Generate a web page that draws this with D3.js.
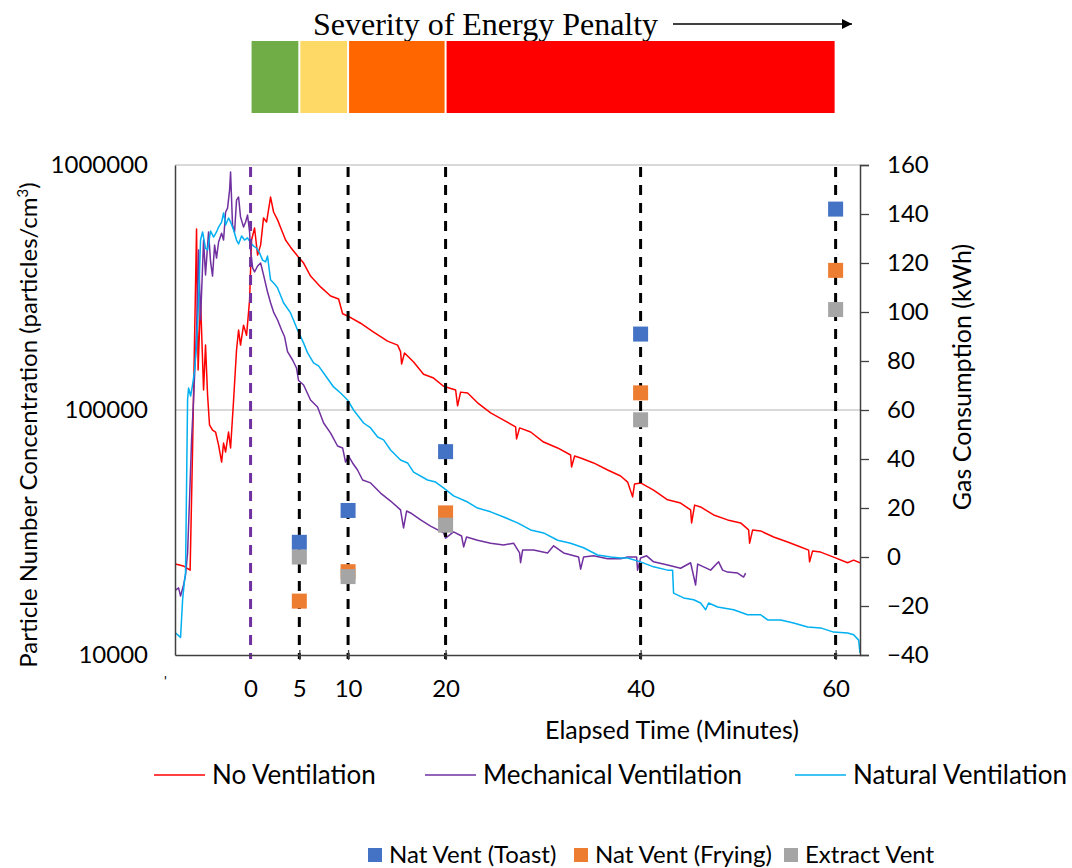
<!DOCTYPE html>
<html>
<head>
<meta charset="utf-8">
<script src="https://cdn.jsdelivr.net/npm/d3@7"></script>
<style>
  body { margin: 0; background: #fff; }
  text { font-family: Lato, "Open Sans", sans-serif; fill: #000; }
</style>
</head>
<body>
<div id="chart-area"></div>
<script>
// time in minutes, particle number concentration (particles/cm3)
const noVentilation = [[-7.7,23500],[-6.9,23100],[-6.2,22200],[-5.95,68700],[-5.54,548000],[-5.38,145600],[-5.13,281000],[-4.82,120700],[-4.62,184000],[-4.41,115100],[-4.21,86900],[-3.9,82800],[-3.59,81300],[-3.28,71900],[-2.97,61300],[-2.77,73300],[-2.56,67400],[-2.26,81300],[-2.05,70000],[-1.74,109900],[-1.44,175800],[-1.23,212000],[-1.03,184000],[-0.72,222000],[-0.41,202000],[-0.1,281000],[0.1,494000],[0.41,553000],[0.72,429000],[1.03,471000],[1.33,608000],[1.64,585000],[2.05,740000],[2.36,643000],[2.77,597000],[3.18,543000],[3.59,494000],[4.1,462000],[4.82,425000],[5.44,398000],[6.15,352000],[7.18,318000],[8.21,292000],[9.03,284000],[9.44,247000],[9.95,242000],[11.28,226000],[12.62,208000],[14.05,191000],[15.08,184000],[15.38,173000],[15.49,154000],[15.79,171000],[16.72,157000],[17.74,140000],[18.77,135000],[19.79,125000],[21.03,120700],[21.23,104000],[21.54,118300],[22.26,117300],[23.28,107000],[24.62,97300],[25.95,91000],[27.18,85300],[27.28,76200],[27.59,84500],[28.72,81300],[30.05,74000],[31.49,70000],[32.82,65500],[32.92,58500],[33.23,64900],[33.85,63700],[35.18,60800],[36.62,56900],[37.95,53800],[38.67,50800],[39.18,44200],[39.38,49900],[40.0,50400],[41.33,47100],[42.77,43000],[44.1,41700],[45.13,39100],[45.23,34600],[45.54,40900],[46.15,40200],[47.49,37300],[48.92,35600],[50.26,34600],[51.08,32400],[51.18,28600],[51.49,32400],[52.31,32100],[53.64,30300],[55.08,28900],[56.41,27600],[57.23,26800],[57.33,24000],[57.64,26600],[58.46,26300],[59.79,25100],[61.23,23800],[61.85,24400],[62.5,23800]];

const mechanicalVentilation = [[-7.69,18400],[-7.38,18800],[-7.18,17400],[-6.87,19300],[-6.67,21200],[-6.46,26100],[-6.26,43000],[-6.05,75500],[-5.85,109900],[-5.54,212000],[-5.33,450000],[-5.13,233000],[-4.82,494000],[-4.62,356000],[-4.31,533000],[-4.1,402000],[-3.9,352000],[-3.69,471000],[-3.49,417000],[-3.28,485000],[-2.97,527000],[-2.77,494000],[-2.56,643000],[-2.36,667000],[-2.15,791000],[-2.05,936000],[-1.85,569000],[-1.64,533000],[-1.44,719000],[-1.23,740000],[-1.03,614000],[-0.72,558000],[-0.51,585000],[-0.31,625000],[-0.1,533000],[0,450000],[0.21,380000],[0.41,366000],[0.72,387000],[1.03,398000],[1.33,356000],[1.74,303000],[2.05,274000],[2.36,251000],[2.77,233000],[3.18,212000],[3.49,199000],[3.79,173000],[4.31,160000],[4.72,148000],[4.92,132000],[5.44,126500],[6.15,109900],[6.87,102800],[7.49,88500],[8.21,80500],[8.92,71300],[9.44,70000],[9.74,61300],[10.05,64900],[10.46,60800],[10.97,56900],[11.49,51800],[12.31,50400],[13.33,45800],[14.36,42500],[15.38,39100],[15.69,33000],[16.0,38700],[16.41,38000],[17.44,35600],[18.46,33600],[19.79,31500],[20.0,30000],[20.82,31800],[21.64,30600],[21.85,27600],[22.15,30300],[23.28,29400],[24.62,28600],[25.95,28100],[26.97,28600],[27.59,26100],[27.69,23800],[27.9,26800],[29.03,26800],[30.46,26100],[31.08,27900],[32.1,26100],[33.64,25100],[33.85,22400],[34.15,25100],[35.18,25400],[36.62,24700],[37.95,24700],[38.67,25100],[39.59,25100],[39.69,22200],[40.0,24900],[40.62,25400],[41.33,24000],[42.77,23300],[44.1,22600],[45.13,23800],[45.64,19300],[45.85,23500],[46.46,22900],[47.18,22200],[48.0,24000],[48.41,22200],[48.92,21800],[49.95,21600],[50.56,20800],[50.77,21600]];

const naturalVentilation = [[-7.69,12300],[-7.38,12000],[-7.18,11800],[-6.97,16800],[-6.77,20200],[-6.67,21600],[-6.46,109900],[-6.36,123000],[-6.15,114000],[-5.95,126500],[-5.74,145600],[-5.54,184000],[-5.33,281000],[-5.13,494000],[-4.92,533000],[-4.62,458000],[-4.41,450000],[-4.1,538000],[-3.79,508000],[-3.49,533000],[-3.28,558000],[-2.97,585000],[-2.77,637000],[-2.56,569000],[-2.26,608000],[-2.05,585000],[-1.74,543000],[-1.44,494000],[-1.23,476000],[-0.92,513000],[-0.62,494000],[-0.31,504000],[0,481000],[0.31,467000],[0.62,458000],[0.92,438000],[1.23,409000],[1.54,402000],[1.74,425000],[2.05,340000],[2.46,327000],[2.77,315000],[3.38,274000],[4.1,249000],[4.82,212000],[5.44,187500],[5.85,171000],[6.46,155600],[6.97,151400],[7.49,141600],[8.51,124200],[9.23,117300],[9.95,109900],[10.56,100000],[11.59,88500],[12.31,84500],[13.03,77600],[13.64,75500],[14.36,68700],[15.38,62500],[16.1,60800],[16.72,55800],[18.15,51800],[18.97,50800],[19.79,48100],[20.82,44600],[22.26,42100],[23.28,39800],[24.62,38400],[25.95,36600],[27.38,34600],[28.72,32400],[30.05,31500],[31.49,29400],[32.82,28600],[34.15,27400],[35.59,25600],[36.92,25100],[37.95,24900],[38.67,24900],[40.0,24000],[41.33,22900],[42.77,22200],[43.28,22200],[43.38,17900],[44.41,17100],[45.44,16800],[46.15,16300],[46.67,15300],[46.97,16300],[47.9,15700],[49.54,15300],[50.97,14600],[52.31,14600],[53.03,13900],[54.36,13900],[55.69,13500],[57.13,13000],[58.46,12900],[59.79,12400],[61.23,12300],[61.85,12100],[62.36,11500],[62.5,10200]];

// gas consumption (kWh) at the marked times
const markerTimes = [5, 10, 20, 40, 60];
const toastGas = [6, 19, 43, 91, 142];
const fryingGas = [-18, -6, 18, 67, 117];
const extractGas = [0, -8, 13, 56, 101];

const xTicks = [0, 5, 10, 20, 40, 60];
const leftTicks = [10000, 100000, 1000000];
const rightTicks = [-40, -20, 0, 20, 40, 60, 80, 100, 120, 140, 160];

// energy penalty bands (minutes)
const penaltyBounds = [0, 5, 10, 20, 60];
const penaltyColors = ['#70AD47', '#FFD966', '#FF6600', '#FF0000'];

const lineSeries = [
  { name: 'No Ventilation', data: noVentilation, color: '#FF0000' },
  { name: 'Mechanical Ventilation', data: mechanicalVentilation, color: '#7030A0' },
  { name: 'Natural Ventilation', data: naturalVentilation, color: '#00B0F0' }
];
const markerSeries = [
  { name: 'Nat Vent (Toast)', values: toastGas, color: '#4472C4' },
  { name: 'Nat Vent (Frying)', values: fryingGas, color: '#ED7D31' },
  { name: 'Extract Vent', values: extractGas, color: '#A5A5A5' }
];

const plot = { left: 175, right: 860, top: 165, bottom: 655 };

const svg = d3.select('#chart-area').append('svg')
  .attr('width', 1072)
  .attr('height', 868);

const x = d3.scaleLinear().domain([-7.75, 62.5]).range([plot.left, plot.right]);
const yLeft = d3.scaleLog().domain([10000, 1000000]).range([plot.bottom, plot.top]);
const yRight = d3.scaleLinear().domain([-40, 160]).range([plot.bottom, plot.top]);

// severity header
svg.append('text')
  .attr('x', 313).attr('y', 35)
  .style('font-family', '"Liberation Serif", "Times New Roman", serif')
  .style('font-size', '32px')
  .text('Severity of Energy Penalty');

svg.append('defs').append('marker')
  .attr('id', 'arrow').attr('viewBox', '0 0 10 10')
  .attr('refX', 10).attr('refY', 5)
  .attr('markerWidth', 10).attr('markerHeight', 10)
  .attr('markerUnits', 'userSpaceOnUse')
  .attr('orient', 'auto')
  .append('path').attr('d', 'M0,0L10,5L0,10Z').attr('fill', '#000');

svg.append('line')
  .attr('x1', 673).attr('x2', 852).attr('y1', 24).attr('y2', 24)
  .attr('stroke', '#000').attr('stroke-width', 1.3)
  .attr('marker-end', 'url(#arrow)');

svg.append('g').selectAll('rect')
  .data(penaltyColors)
  .join('rect')
  .attr('x', (d, i) => x(penaltyBounds[i]) + 1)
  .attr('width', (d, i) => x(penaltyBounds[i + 1]) - x(penaltyBounds[i]) - 2)
  .attr('y', 41).attr('height', 72)
  .attr('fill', d => d);

// gridlines
svg.append('g').selectAll('line')
  .data([100000, 1000000])
  .join('line')
  .attr('x1', plot.left).attr('x2', plot.right)
  .attr('y1', d => yLeft(d)).attr('y2', d => yLeft(d))
  .attr('stroke', '#D9D9D9').attr('stroke-width', 2);

// series lines
svg.append('clipPath').attr('id', 'plot-clip')
  .append('rect')
  .attr('x', plot.left).attr('y', plot.top - 2)
  .attr('width', plot.right - plot.left).attr('height', plot.bottom - plot.top + 2);

const line = d3.line().x(d => x(d[0])).y(d => yLeft(d[1]));
svg.append('g').attr('clip-path', 'url(#plot-clip)')
  .selectAll('path')
  .data(lineSeries)
  .join('path')
  .attr('d', d => line(d.data))
  .attr('fill', 'none')
  .attr('stroke', d => d.color)
  .attr('stroke-width', 1.5)
  .attr('stroke-linejoin', 'round');

// event markers (dashed verticals)
svg.append('g').selectAll('line')
  .data([0].concat(markerTimes))
  .join('line')
  .attr('x1', d => x(d)).attr('x2', d => x(d))
  .attr('y1', plot.top + 2).attr('y2', plot.bottom + 4)
  .attr('stroke', d => d === 0 ? '#7030A0' : '#000')
  .attr('stroke-width', 3)
  .attr('stroke-dasharray', '10,8');

// gas consumption squares
markerSeries.forEach(s => {
  svg.append('g').selectAll('rect')
    .data(s.values)
    .join('rect')
    .attr('x', (d, i) => x(markerTimes[i]) - 7.5)
    .attr('y', d => yRight(d) - 7.5)
    .attr('width', 15).attr('height', 15)
    .attr('fill', s.color);
});

// axes
const leftAxis = svg.append('g')
  .attr('transform', `translate(${plot.left},0)`)
  .call(d3.axisLeft(yLeft).tickValues(leftTicks).tickFormat(d3.format('d')).tickSize(0).tickPadding(27));
leftAxis.select('.domain').attr('stroke', '#404040').attr('stroke-width', 1.5);

const rightAxis = svg.append('g')
  .attr('transform', `translate(${plot.right},0)`)
  .call(d3.axisRight(yRight).tickValues(rightTicks).tickSize(9).tickPadding(18));
rightAxis.select('.domain').attr('stroke', '#404040').attr('stroke-width', 1.5);
rightAxis.selectAll('.tick line').attr('stroke', '#404040').attr('stroke-width', 1.3);

const bottomAxis = svg.append('g')
  .attr('transform', `translate(0,${plot.bottom})`)
  .call(d3.axisBottom(x).tickValues(xTicks).tickSize(0).tickPadding(25));
bottomAxis.select('.domain').attr('stroke', '#404040').attr('stroke-width', 1.5);
bottomAxis.selectAll('.tick').filter(d => d !== 0).append('line')
  .attr('y1', -5).attr('y2', 5)
  .attr('stroke', '#404040').attr('stroke-width', 1.3);

svg.selectAll('.tick text')
  .style('font-family', 'Lato, sans-serif')
  .style('font-size', '24px')
  .attr('fill', '#000');

svg.append('text')
  .attr('x', 164).attr('y', 686)
  .style('font-size', '14px').attr('fill', '#555')
  .text("'");

// axis titles
svg.append('text')
  .attr('transform', 'translate(37,425) rotate(-90)')
  .attr('text-anchor', 'middle')
  .style('font-size', '24px')
  .html('Particle Number Concentration (particles/cm<tspan dy="-9" font-size="15">3</tspan><tspan dy="9">)</tspan>');

svg.append('text')
  .attr('transform', 'translate(971,377) rotate(-90)')
  .attr('text-anchor', 'middle')
  .style('font-size', '25px')
  .text('Gas Consumption (kWh)');

svg.append('text')
  .attr('x', 672).attr('y', 739)
  .attr('text-anchor', 'middle')
  .style('font-size', '25px')
  .text('Elapsed Time (Minutes)');

// line legend
const lineLegendX = [154, 425, 795];
const lineLegend = svg.append('g').selectAll('g')
  .data(lineSeries)
  .join('g')
  .attr('transform', (d, i) => `translate(${lineLegendX[i]},775)`);
lineLegend.append('line')
  .attr('x1', 0).attr('x2', 51)
  .attr('stroke', d => d.color).attr('stroke-width', 1.5);
lineLegend.append('text')
  .attr('x', 58).attr('y', 9)
  .style('font-size', '26px')
  .text(d => d.name);

// marker legend
const markerLegendX = [368, 574, 784];
const markerLegend = svg.append('g').selectAll('g')
  .data(markerSeries)
  .join('g')
  .attr('transform', (d, i) => `translate(${markerLegendX[i]},855)`);
markerLegend.append('rect')
  .attr('x', 0).attr('y', -7).attr('width', 14).attr('height', 14)
  .attr('fill', d => d.color);
markerLegend.append('text')
  .attr('x', 21).attr('y', 8)
  .style('font-size', '24px')
  .text(d => d.name);
</script>
</body>
</html>
